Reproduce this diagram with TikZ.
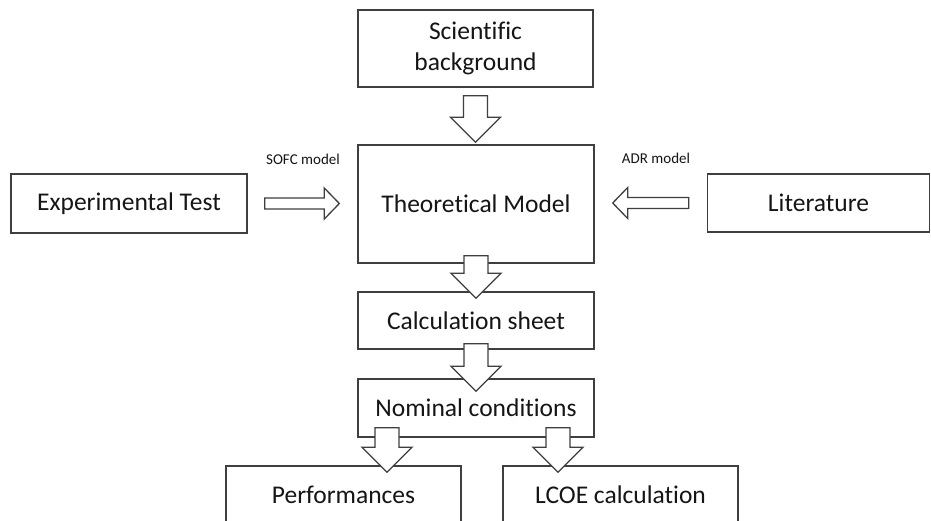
\documentclass[tikz,border=0pt]{standalone}
\usepackage{fontspec}
\setmainfont{Carlito}[Ligatures=NoCommon]
\usetikzlibrary{calc}
\definecolor{linec}{HTML}{3F3F3F}
\definecolor{textc}{HTML}{151515}
\tikzset{
  box/.style={draw=linec, line width=1.4pt, fill=white, minimum width=236pt, inner sep=0pt,
    text=textc, font=\fontsize{25.5}{30.5}\selectfont, align=center},
  blockarrow/.style={draw=linec, line width=1.3pt, fill=white, line join=miter},
  lbl/.style={text=textc, font=\fontsize{15}{17}\selectfont, inner sep=0pt}
}
% vertical block arrow: #1 top of shaft, #2 tip (only its y is used)
\newcommand\vblockarrow[2]{%
  \draw[blockarrow] let \p1=(#1), \p2=(#2) in
    ({\x1-12},\y1) -- ({\x1+12},\y1) -- ({\x1+12},{\y2+25}) -- ({\x1+25},{\y2+25}) --
    (\x1,\y2) -- ({\x1-25},{\y2+25}) -- ({\x1-12},{\y2+25}) -- cycle;}
% horizontal block arrow: #1 tail, #2 tip, #3 direction (1 right, -1 left)
\newcommand\hblockarrow[3]{%
  \draw[blockarrow] let \p1=(#1), \p2=(#2), \n1={(#3)*15} in
    (\x1,{\y1+5.5}) -- ({\x2-\n1},{\y1+5.5}) -- ({\x2-\n1},{\y1+15.5}) --
    (\x2,\y1) -- ({\x2-\n1},{\y1-15.5}) -- ({\x2-\n1},{\y1-5.5}) --
    (\x1,{\y1-5.5}) -- cycle;}
\begin{document}
\begin{tikzpicture}[x=1pt,y=-1pt]
\useasboundingbox (0,0) rectangle (931,520);
\clip (0,0) rectangle (931,520);
\fill[white] (0,0) rectangle (931,520);

\node[box, minimum height=77pt, minimum width=235pt] (sci) at (475.5,48.5) {Scientific\\background};
\node[box, minimum height=118pt] (theo) at (476,204) {Theoretical Model};
\node[box, minimum height=59pt] (exp) at (129,203.5) {Experimental Test};
\node[box, minimum height=58pt, minimum width=222pt] (lit) at (818.5,203) {Literature};
\node[box, minimum height=57pt] (calc) at (476,320.5) {Calculation sheet};
\node[box, minimum height=58pt] (nom) at (476,408) {Nominal conditions};
\node[box, minimum height=58pt, minimum width=235pt] (perf) at (343.5,495) {Performances};
\node[box, minimum height=58pt, minimum width=235pt] (lcoe) at (620.5,495) {LCOE calculation};

\node[lbl] (sofc) at (303,159) {SOFC model};
\node[lbl] (adr) at (656,158) {ADR model};

\coordinate (a1s) at ($(sci.south)+(0,8)$);
\coordinate (a1t) at ($(theo.north)+(0,-2)$);
\coordinate (a2s) at ($(theo.south)+(0,-8)$);
\coordinate (a2t) at ($(calc.north)+(0,7)$);
\coordinate (a3s) at ($(calc.south)+(0,-6)$);
\coordinate (a3t) at ($(nom.north)+(0,13)$);
\coordinate (a4s) at ($(nom.south)+(-89,-10)$);
\coordinate (a4t) at ($(perf.north)+(0,7)$);
\coordinate (a5s) at ($(nom.south)+(82,-10)$);
\coordinate (a5t) at ($(lcoe.north)+(0,7)$);
\coordinate (h1s) at ($(exp.east)+(17,0)$);
\coordinate (h1t) at ($(theo.west)+(-18,0)$);
\coordinate (h2s) at ($(lit.west)+(-18,0)$);
\coordinate (h2t) at ($(theo.east)+(18,0)$);

\vblockarrow{a1s}{a1t}
\vblockarrow{a2s}{a2t}
\vblockarrow{a3s}{a3t}
\vblockarrow{a4s}{a4t}
\vblockarrow{a5s}{a5t}
\hblockarrow{h1s}{h1t}{1}
\hblockarrow{h2s}{h2t}{-1}
\end{tikzpicture}
\end{document}
